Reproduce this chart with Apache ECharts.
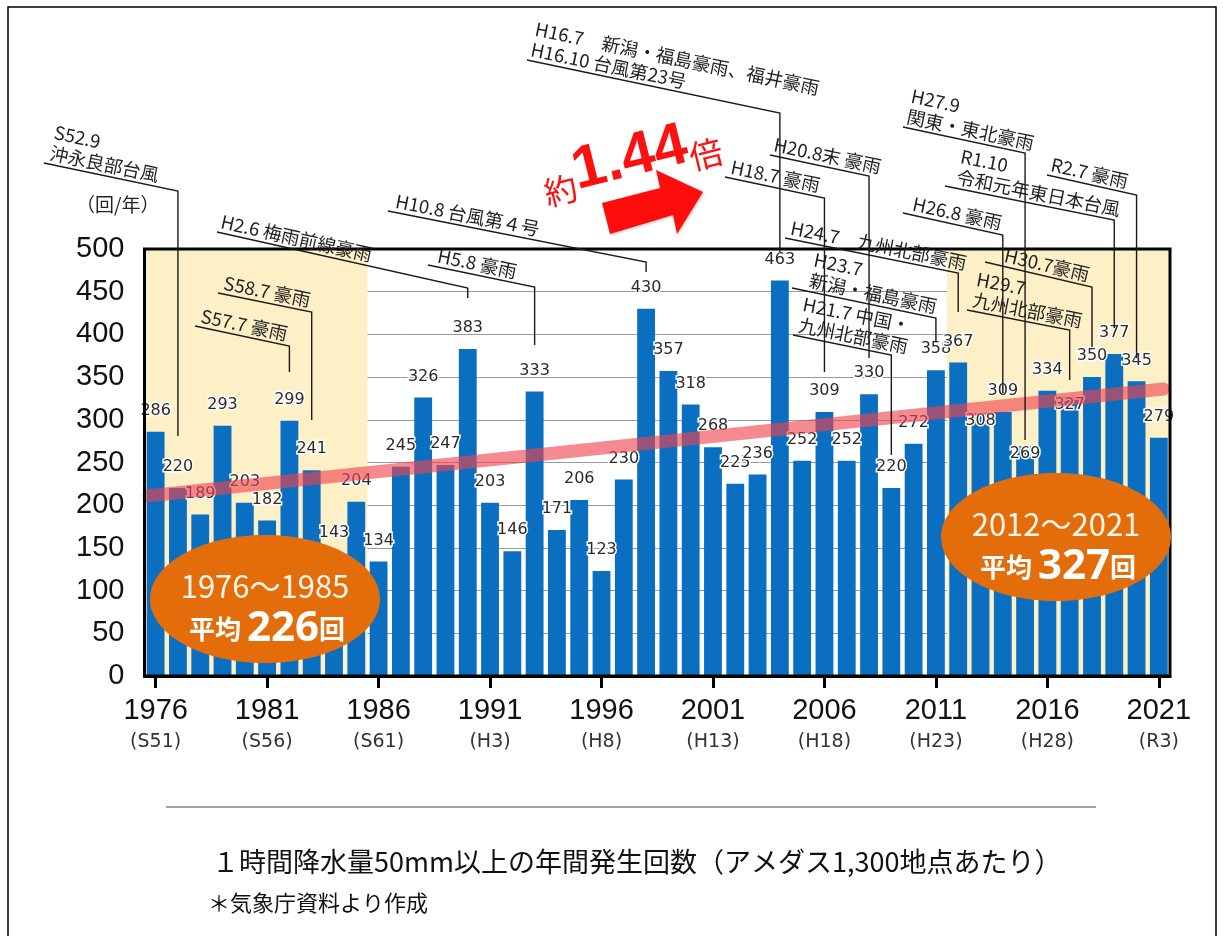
<!DOCTYPE html>
<html>
<head>
<meta charset="utf-8">
<script src="https://cdn.jsdelivr.net/npm/echarts@6/dist/echarts.min.js"></script>
<style>
  html, body { margin: 0; padding: 0; background: #fff; }
  #chart { width: 1224px; height: 936px; }
</style>
</head>
<body>
<div id="chart"></div>
<script>
// Yearly occurrences of hourly rainfall >= 50 mm (per 1,300 AMeDAS stations)
const years = ['1976','1977','1978','1979','1980','1981','1982','1983','1984','1985',
               '1986','1987','1988','1989','1990','1991','1992','1993','1994','1995',
               '1996','1997','1998','1999','2000','2001','2002','2003','2004','2005',
               '2006','2007','2008','2009','2010','2011','2012','2013','2014','2015',
               '2016','2017','2018','2019','2020','2021'];
const counts = [286, 220, 189, 293, 203, 182, 299, 241, 143, 204,
                134, 245, 326, 247, 383, 203, 146, 333, 171, 206,
                123, 230, 430, 357, 318, 268, 225, 236, 463, 252,
                309, 252, 330, 220, 272, 358, 367, 308, 309, 269,
                334, 327, 350, 377, 345, 279];
// Japanese era shown under each tick year
const eraLabels = { '1976':'S51', '1981':'S56', '1986':'S61', '1991':'H3', '1996':'H8',
                    '2001':'H13', '2006':'H18', '2011':'H23', '2016':'H28', '2021':'R3' };
const yTicks = [0, 50, 100, 150, 200, 250, 300, 350, 400, 450, 500];
// Trend line end points (category position, count)
const trendLine = [[-0.3, 211], [45.2, 336]];
// Shaded comparison periods (category index ranges)
const periodEarly = { from: 0, to: 9, label: '1976～1985', avg: 226 };
const periodLate  = { from: 36, to: 45, label: '2012～2021', avg: 327 };
const ratioText = '1.44';
// Years whose value label sits just inside the bar top (kept clear of leader lines)
const insideLabelYears = ['2013', '2015', '2017'];

// Event callouts: text, year of the bar it points at, and leader-line layout
const callouts = [
  { year:'1977', text:'S52.9\n沖永良部台風', start:[44,163], cornerY:191, tipY:436, dx:4 },
  { year:'1990', text:'H2.6 梅雨前線豪雨', start:[217,232], cornerY:288, tipY:298, dx:2 },
  { year:'1983', text:'S58.7 豪雨', start:[218,293], cornerY:312, tipY:420, dx:4 },
  { year:'1982', text:'S57.7 豪雨', start:[195,326], cornerY:346, tipY:372, dx:4 },
  { year:'1998', text:'H10.8 台風第４号', start:[388,211], cornerY:262, tipY:272, dx:6 },
  { year:'1993', text:'H5.8 豪雨', start:[428,265], cornerY:287, tipY:345, dx:8 },
  { year:'2004', text:'H16.7　新潟・福島豪雨、福井豪雨\nH16.10 台風第23号', start:[527,60], cornerY:113, tipY:252, dx:2 },
  { year:'2008', text:'H20.8末 豪雨', start:[770,155], cornerY:176, tipY:358, dx:2 },
  { year:'2006', text:'H18.7 豪雨', start:[725,177], cornerY:198, tipY:372, dx:4 },
  { year:'2012', text:'H24.7　九州北部豪雨', start:[785,238], cornerY:273, tipY:312, dx:4 },
  { year:'2011', text:'H23.7\n新潟・福島豪雨', start:[792,288], cornerY:318, tipY:342, dx:16 },
  { year:'2009', text:'H21.7 中国・\n九州北部豪雨', start:[793,335], cornerY:355, tipY:455, dx:4 },
  { year:'2015', text:'H27.9\n関東・東北豪雨', start:[903,127], cornerY:153, tipY:440, dx:2 },
  { year:'2019', text:'R1.10\n令和元年東日本台風', start:[945,186], cornerY:220, tipY:328, dx:10 },
  { year:'2020', text:'R2.7 豪雨', start:[1047,175], cornerY:195, tipY:358, dx:2 },
  { year:'2014', text:'H26.8 豪雨', start:[903,213], cornerY:235, tipY:393, dx:8 },
  { year:'2018', text:'H30.7豪雨', start:[985,262], cornerY:287, tipY:347, dx:18 },
  { year:'2017', text:'H29.7\n九州北部豪雨', start:[967,310], cornerY:330, tipY:380, dx:4 }
];

const JP = '"Noto Sans CJK JP", "Noto Sans", sans-serif';
const chart = echarts.init(document.getElementById('chart'), null, { renderer: 'canvas' });

const barData = counts.map((v, i) =>
  insideLabelYears.includes(years[i])
    ? { value: v, label: { position: 'insideTop', distance: 0 } }
    : v
);

const option = {
  animation: false,
  backgroundColor: '#ffffff',
  grid: {
    left: 144.5, right: 54, top: 249, bottom: 260,
    show: true, borderColor: '#000', borderWidth: 3,
    backgroundColor: 'transparent', z: 4
  },
  xAxis: [
    {
      type: 'category',
      data: years,
      boundaryGap: true,
      axisLine: { show: true, lineStyle: { color: '#000', width: 3 } },
      axisTick: { show: true, interval: 4, alignWithLabel: true, length: 12,
                  lineStyle: { color: '#000', width: 3 } },
      axisLabel: {
        interval: 4,
        margin: 18,
        formatter: v => `{y|${v}}\n{e|(${eraLabels[v]})}`,
        rich: {
          y: { fontSize: 29, fontFamily: '"Liberation Sans", Arial, sans-serif', color: '#111', lineHeight: 34 },
          e: { fontSize: 19, fontFamily: '"DejaVu Sans", sans-serif', color: '#333', lineHeight: 28 }
        }
      },
      splitLine: { show: false },
      z: 5
    },
    { type: 'value', min: -0.5, max: 45.5, show: false }
  ],
  yAxis: {
    type: 'value',
    min: yTicks[0], max: yTicks[yTicks.length - 1], interval: 50,
    z: 1,
    axisLine: { show: false },
    axisTick: { show: false },
    axisLabel: { fontSize: 29, fontFamily: '"Liberation Sans", Arial, sans-serif', color: '#111', margin: 20 },
    splitLine: { lineStyle: { color: '#9a9a9a', width: 1 } }
  },
  series: [
    {
      // cream background bands for the two compared periods
      type: 'line',
      xAxisIndex: 1,
      data: [],
      z: 0,
      silent: true,
      markArea: {
        silent: true,
        itemStyle: { color: '#fdefc6' },
        data: [
          [{ xAxis: periodEarly.from - 0.5 }, { xAxis: periodEarly.to + 0.5 }],
          [{ xAxis: periodLate.from - 0.5 }, { xAxis: periodLate.to + 0.5 }]
        ]
      }
    },
    {
      type: 'bar',
      xAxisIndex: 0,
      data: barData,
      barWidth: '80%',
      z: 2,
      itemStyle: { color: '#0b6fc1' },
      label: {
        show: true,
        position: 'top',
        distance: 13,
        color: '#2a2a2a',
        fontSize: 16,
        fontFamily: '"DejaVu Sans", sans-serif',
        textBorderColor: '#fff',
        textBorderWidth: 3
      }
    },
    {
      type: 'line',
      xAxisIndex: 1,
      data: trendLine,
      z: 3,
      silent: true,
      symbol: 'none',
      lineStyle: { width: 13, color: 'rgba(240,66,78,0.62)', cap: 'round' }
    }
  ]
};

chart.setOption(option);

// ---- annotations ----
const g = [];

// outer frame
g.push({ type: 'rect', z: 20, shape: { x: 8, y: 7, width: 1208, height: 945 },
         style: { fill: null, stroke: '#000', lineWidth: 1.5 } });

// y axis unit
g.push({ type: 'text', z: 20, x: 76, y: 205,
         style: { text: '（回/年）', font: '19px ' + JP, fill: '#222', align: 'left', verticalAlign: 'middle' } });

// callouts with leader lines
callouts.forEach(c => {
  const cx = chart.convertToPixel({ xAxisIndex: 0 }, c.year);
  const [sx, sy] = c.start;
  const angle = Math.atan2(c.cornerY - sy, cx - sx);
  g.push({
    type: 'polyline', z: 20, silent: true,
    shape: { points: [[sx, sy], [cx, c.cornerY], [cx, c.tipY]] },
    style: { stroke: '#1a1a1a', lineWidth: 1.4, fill: null }
  });
  g.push({
    type: 'text', z: 20, silent: true,
    x: sx + c.dx * Math.cos(angle), y: sy + c.dx * Math.sin(angle) - 1,
    rotation: -angle,
    style: { text: c.text, font: '18.5px ' + JP, fill: '#1e1e1e', align: 'left',
             verticalAlign: 'bottom', lineHeight: 21 }
  });
});

// period average ellipses
function periodBadge(p, cx, cy) {
  g.push({ type: 'ellipse', z: 22, shape: { cx: cx, cy: cy, rx: 115, ry: 64 },
           style: { fill: '#e36c0b' } });
  g.push({ type: 'text', z: 23, x: cx, y: cy - 13,
           style: { text: p.label, font: '31px ' + JP, fill: '#fff6ea', align: 'center', verticalAlign: 'middle' } });
  g.push({ type: 'text', z: 23, x: cx + 2, y: cy + 30,
           style: {
             text: `{a|平均 }{b|${p.avg}}{a|回}`,
             align: 'center', verticalAlign: 'middle',
             rich: {
               a: { fontSize: 26, fontWeight: 'bold', fontFamily: JP, fill: '#fff' },
               b: { fontSize: 42, fontWeight: 'bold', fontFamily: '"Open Sans", "Noto Sans", sans-serif', fill: '#fff' }
             }
           } });
}
periodBadge(periodEarly, 265, 599);
periodBadge(periodLate, 1056, 537);

// growth arrow and ratio
g.push({ type: 'polygon', z: 20,
         shape: { points: [[602,203],[660,188],[656,170],[703,192],[677,234],[673,215],[610,234]] },
         style: { fill: '#ff0d0d', shadowColor: 'rgba(0,0,0,0.25)', shadowBlur: 3, shadowOffsetX: 1, shadowOffsetY: 1 } });
g.push({ type: 'text', z: 20, x: 630, y: 159, rotation: 14 * Math.PI / 180,
         style: {
           text: `{a|約}{b|${ratioText}}{a|倍}`,
           align: 'center', verticalAlign: 'middle',
           rich: {
             a: { fontSize: 33, fontFamily: JP, fill: '#ff1010', verticalAlign: 'bottom' },
             b: { fontSize: 60, fontWeight: 'bold', fontFamily: '"Liberation Sans", Arial, sans-serif', fill: '#ff1010' }
           }
         } });

// separator and caption
g.push({ type: 'line', z: 20, shape: { x1: 166, y1: 807, x2: 1096, y2: 807 },
         style: { stroke: '#444', lineWidth: 1 } });
g.push({ type: 'text', z: 20, x: 212, y: 862,
         style: { text: '１時間降水量50mm以上の年間発生回数（アメダス1,300地点あたり）',
                  font: '27px ' + JP, fill: '#111', align: 'left', verticalAlign: 'middle' } });
g.push({ type: 'text', z: 20, x: 208, y: 903,
         style: { text: '＊気象庁資料より作成', font: '22px ' + JP, fill: '#111', align: 'left', verticalAlign: 'middle' } });

chart.setOption({ graphic: { elements: g } });
</script>
</body>
</html>
